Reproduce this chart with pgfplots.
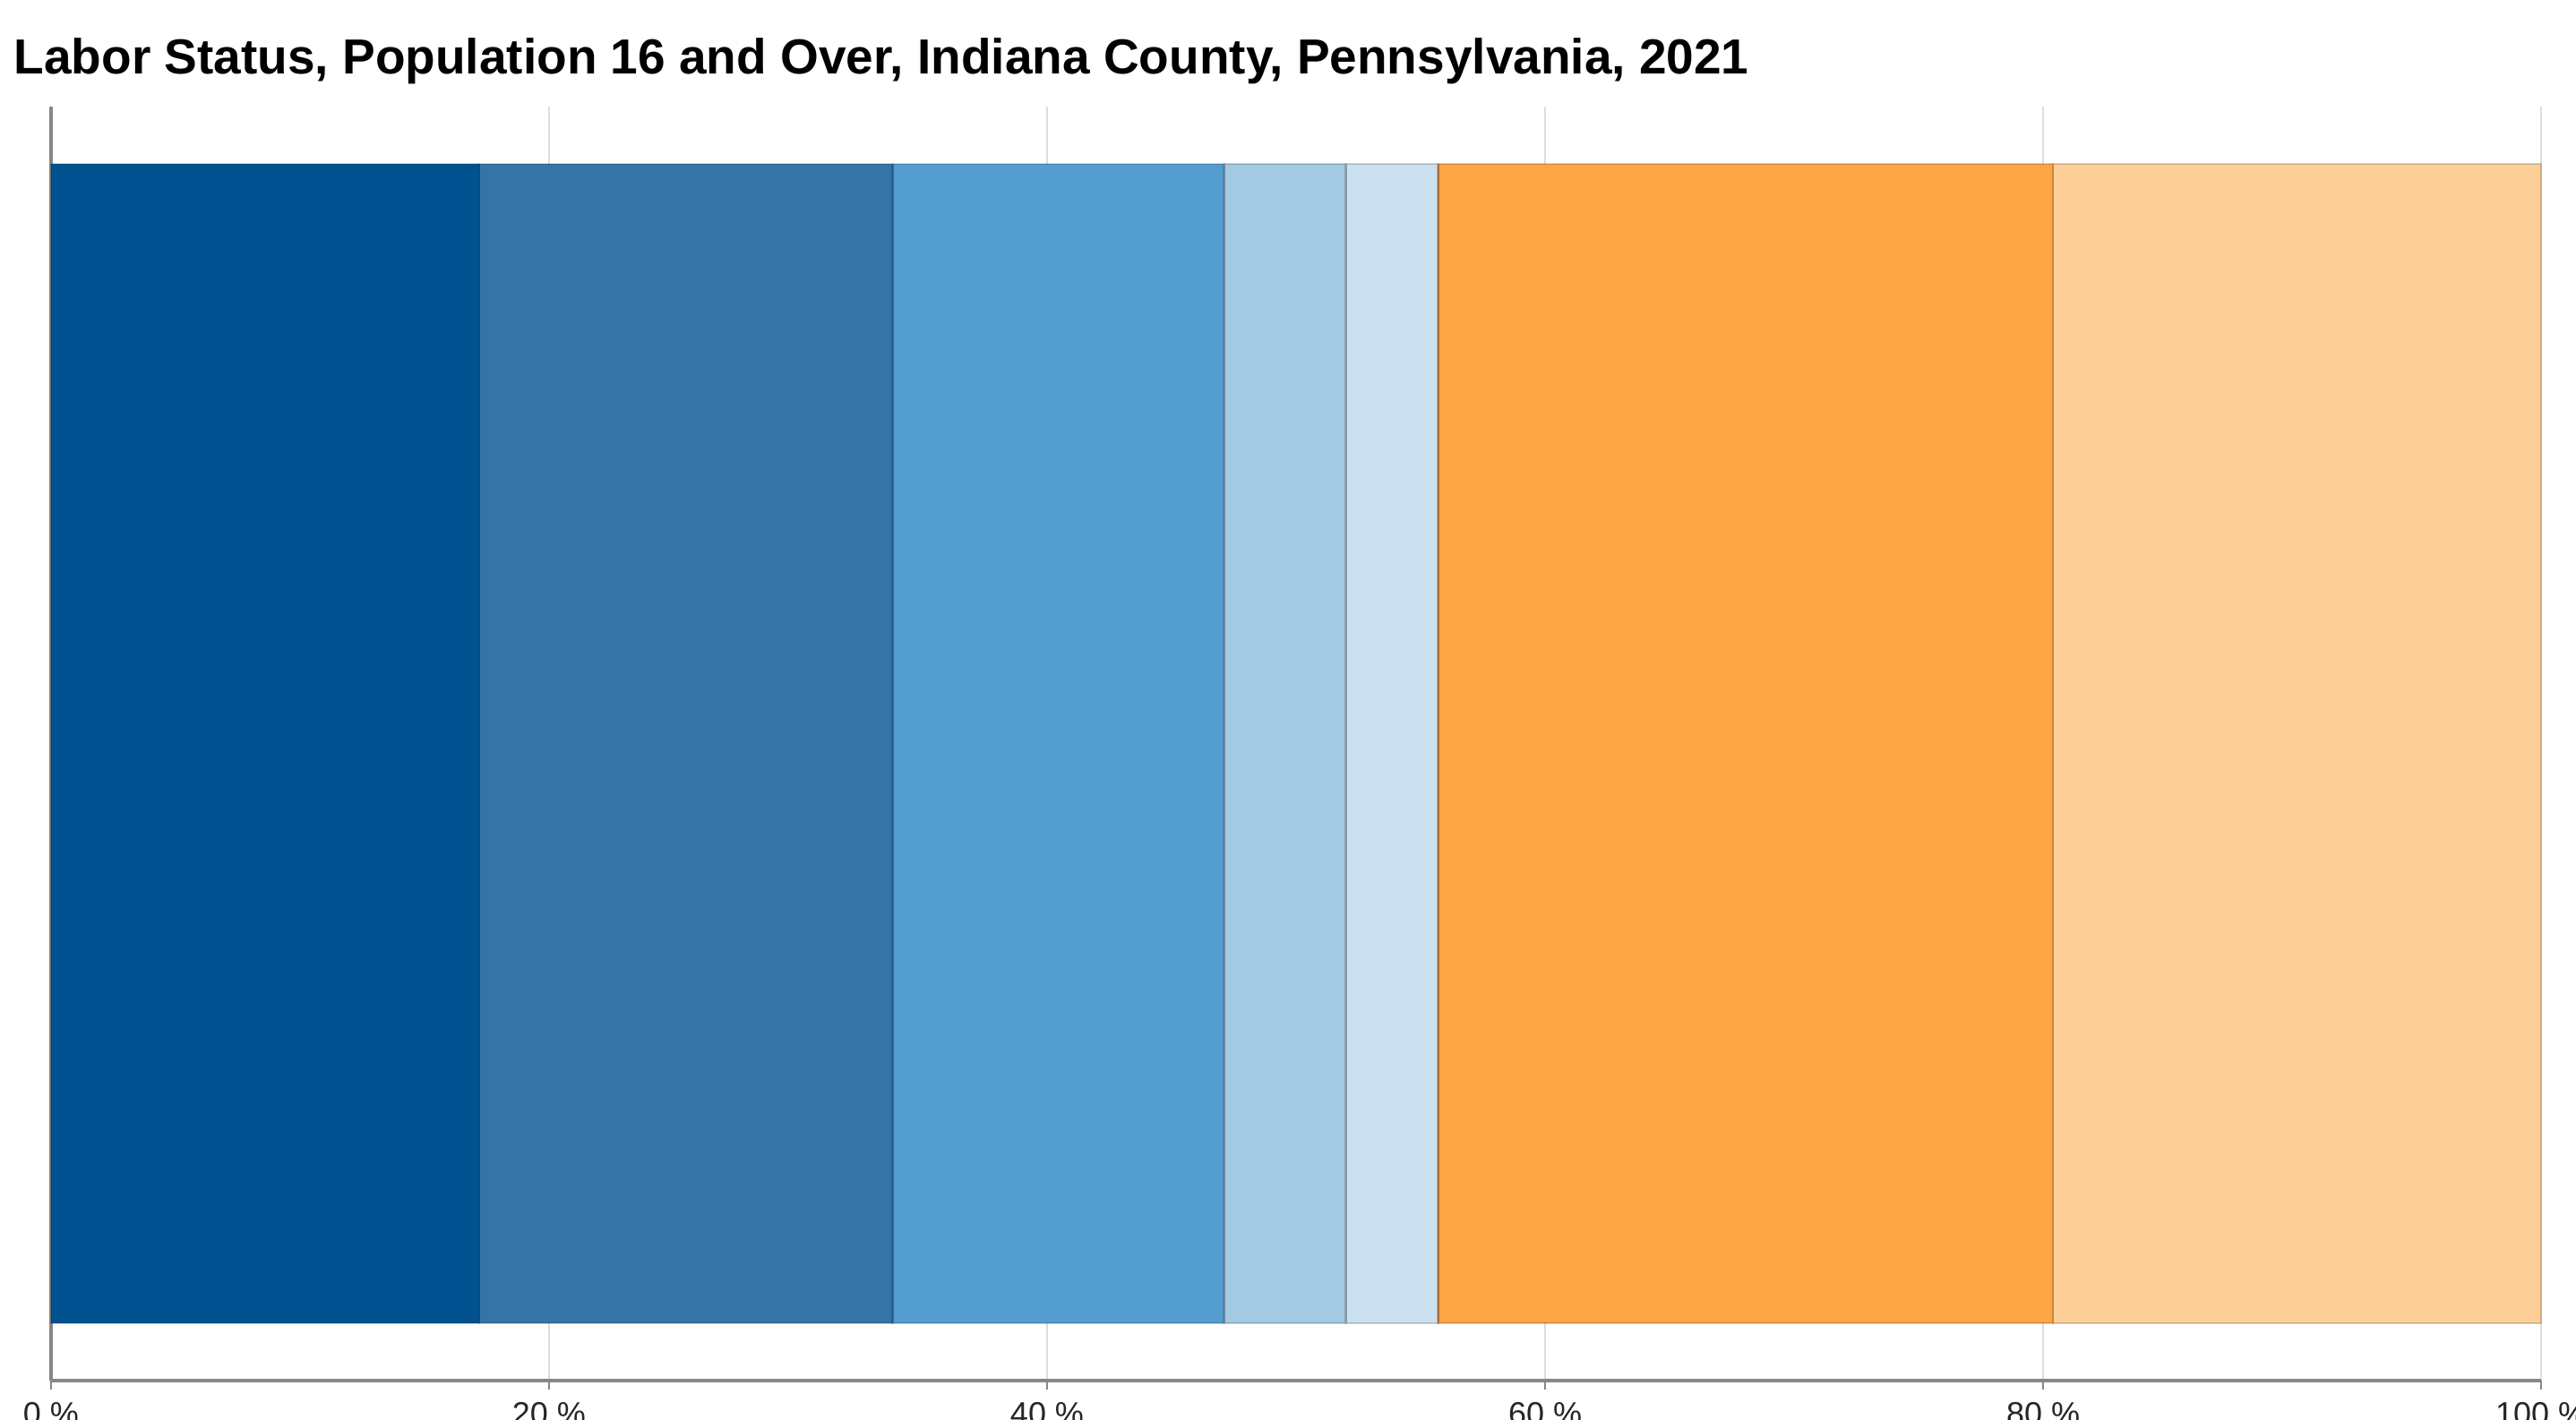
\documentclass[border=0pt]{standalone}
\usepackage{fontspec}
\setmainfont{Liberation Sans}
\usepackage{pgfplots}
\pgfplotsset{compat=1.18}

\definecolor{s1}{RGB}{0,82,144}
\definecolor{s2}{RGB}{52,116,166}
\definecolor{s3}{RGB}{83,158,207}
\definecolor{s4}{RGB}{163,201,227}
\definecolor{s5}{RGB}{203,225,239}
\definecolor{s6}{RGB}{253,165,69}
\definecolor{s7}{RGB}{253,208,152}
\definecolor{axisgray}{RGB}{135,135,135}
\definecolor{gridgray}{RGB}{221,221,221}

\begin{document}
\begin{tikzpicture}
\begin{axis}[
  xbar stacked,
  scale only axis,
  width=695pt, height=355.5pt,
  xmin=0, xmax=100,
  ymin=-1, ymax=1,
  bar width=323.5pt,
  axis x line=bottom,
  axis y line=left,
  axis line style={-, draw=axisgray, line width=0.9pt},
  ytick=\empty,
  xtick={0,20,40,60,80,100},
  xticklabel={\pgfmathprintnumber{\tick}~\%},
  /pgf/number format/assume math mode=true,
  xticklabel style={font=\fontsize{9}{10}\selectfont, text=black!85},
  tick align=outside,
  major tick length=2.5pt,
  tick style={draw=axisgray, line width=0.6pt},
  xmajorgrids,
  major grid style={draw=gridgray, line width=0.5pt},
  every axis plot/.append style={draw=black, draw opacity=0.18, line width=0.6pt},
  clip=false,
]
% labor status shares (percent), left to right
\addplot[fill=s1] coordinates {(17.2,0)};
\addplot[fill=s2] coordinates {(16.6,0)};
\addplot[fill=s3] coordinates {(13.3,0)};
\addplot[fill=s4] coordinates {(4.9,0)};
\addplot[fill=s5] coordinates {(3.7,0)};
\addplot[fill=s6] coordinates {(24.7,0)};
\addplot[fill=s7] coordinates {(19.6,0)};
\coordinate (o) at (rel axis cs:0,0);
\coordinate (t) at (rel axis cs:1,1);
\coordinate (tl) at (rel axis cs:0,1);
\end{axis}
\node[anchor=base west, inner sep=0pt, font=\bfseries\fontsize{13.75}{16}\selectfont]
  at ([xshift=-10.5pt,yshift=9pt]tl)
  {Labor Status, Population 16 and Over, Indiana County, Pennsylvania, 2021};
\pgfresetboundingbox
\path[use as bounding box] ([xshift=-14.25pt,yshift=-10.75pt]o) rectangle ([xshift=9.75pt,yshift=29.75pt]t);
\end{tikzpicture}
\end{document}
